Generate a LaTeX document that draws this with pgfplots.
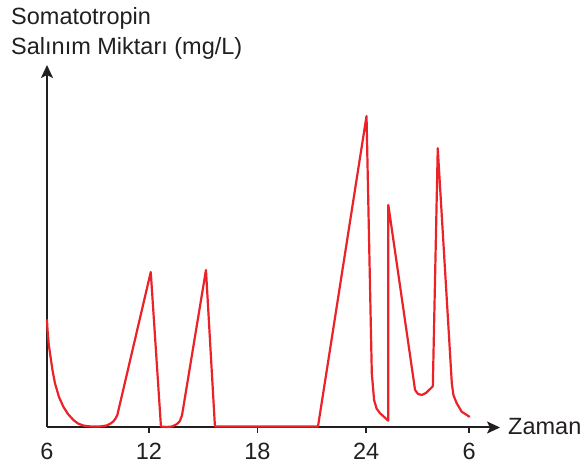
\documentclass[border=0pt]{standalone}
\usepackage{fontspec}
\setmainfont{Liberation Sans}
\usepackage{pgfplots}
\pgfplotsset{compat=1.18}
\usetikzlibrary{arrows.meta}
\definecolor{curve}{RGB}{235,35,40}
\definecolor{axisc}{RGB}{35,31,32}
\begin{document}
\fontsize{23.5}{28}\selectfont
\begin{tikzpicture}[x=1pt,y=1pt]
\useasboundingbox (0,0) rectangle (582,466);
\begin{axis}[
 at={(47pt,38.5pt)}, anchor=south west,
 scale only axis, width=453pt, height=362.5pt,
 xmin=6, xmax=31.76, ymin=0, ymax=362.5,
 axis lines=left,
 axis line style={axisc, line width=2pt},
 x axis line style={-{Stealth[length=13pt,width=12pt,inset=3pt]}},
 y axis line style={-{Stealth[length=13pt,width=12pt,inset=3pt]}},
 ytick=\empty,
 xtick={11.8,17.96,24.15,30},
 xticklabels={12,18,24,6},
 extra x ticks={6},
 extra x tick labels={6},
 extra x tick style={tick style={draw=none}},
 xtick align=outside,
 major tick length=6pt,
 xtick style={axisc, line width=1.5pt},
 tick label style={font=\fontsize{23.5}{28}\selectfont, text=axisc},
 xticklabel style={anchor=base, yshift=-26.5pt},
 /pgf/number format/assume math mode=true,
 clip=false,
]
\addplot[curve, line width=2.2pt, line join=round, line cap=round] coordinates {
(6.00,107.5) (6.03,97.5) (6.10,83) (6.17,74.5) (6.31,57.5) (6.45,44.5) (6.68,30.5) (6.93,20.8)
(7.19,13.5) (7.50,7.5) (7.76,4) (8.06,2) (8.35,1.2) (8.63,1) (9.01,1) (9.39,2)
(9.60,3.8) (9.77,6) (9.90,9) (10.00,12.5)
(11.90,155.5)
(12.48,1) (12.77,0.5) (13.11,1) (13.39,3.5) (13.56,6.5) (13.68,12.5)
(15.04,157.5)
(15.55,1) (21.41,1)
(24.17,311.5)
(24.47,54.2) (24.60,27.5) (24.74,19) (24.94,14.2) (25.41,6.8)
(25.41,222.5)
(26.93,37.5) (27.10,33.5) (27.31,32.5) (27.55,34.5) (27.94,41.2)
(28.22,279.2)
(29.02,44.2) (29.11,32.5) (29.30,24.2) (29.58,15.8) (30.02,10.8)
};
\end{axis}
\node[anchor=base west, inner sep=0, text=axisc] at (11,441) {Somatotropin};
\node[anchor=base west, inner sep=0, text=axisc] at (11,411) {Salınım Miktarı (mg/L)};
\node[anchor=base west, inner sep=0, text=axisc] at (508,31) {Zaman};
\end{tikzpicture}
\end{document}
